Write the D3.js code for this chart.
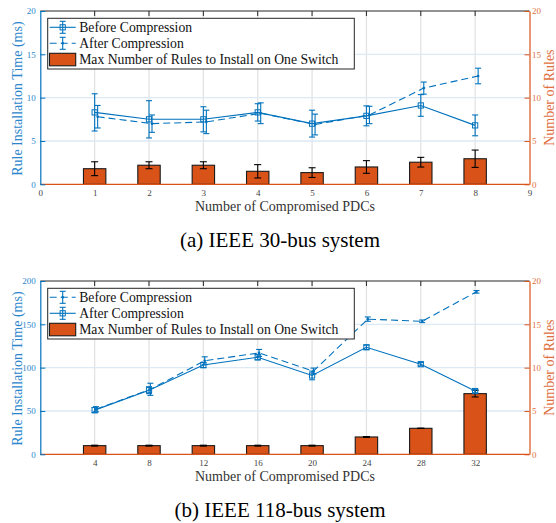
<!DOCTYPE html>
<html><head><meta charset="utf-8">
<script src="https://cdn.jsdelivr.net/npm/d3@7"></script>
<style>
body{margin:0;background:#fff}
svg{display:block}
svg text{font-family:"Liberation Serif","DejaVu Serif","Noto Serif","Tinos","Times New Roman","Nimbus Roman","Nimbus Roman No9 L","FreeSerif","Georgia",serif !important}
</style>
</head><body>
<svg id="chart" width="556" height="523"></svg>
<script>
// ---------- Panel (a): IEEE 30-bus ----------
const pdcA = [1, 2, 3, 4, 5, 6, 7, 8];
const beforeA = [8.3, 7.5, 7.5, 8.3, 7.0, 7.9, 9.1, 6.8];
const beforeAErr = [2.15, 2.15, 1.45, 1.0, 1.55, 1.15, 1.25, 1.2];
const afterA = [7.8, 7.0, 7.2, 8.2, 6.9, 8.0, 11.1, 12.5];
const afterAErr = [1.3, 1.0, 1.35, 1.2, 1.2, 1.0, 0.7, 0.9];
const rulesA = [1.8, 2.2, 2.2, 1.5, 1.35, 2.0, 2.55, 2.95];
const rulesAErr = [0.8, 0.4, 0.4, 0.77, 0.56, 0.73, 0.56, 1.0];
const xTicksA = [0, 1, 2, 3, 4, 5, 6, 7, 8, 9];
const leftTicksA = [0, 5, 10, 15, 20];
const legendA = ["Before Compression", "After Compression", "Max Number of Rules to Install on One Switch"];

// ---------- Panel (b): IEEE 118-bus ----------
const pdcB = [4, 8, 12, 16, 20, 24, 28, 32];
const beforeB = [52, 75, 108, 117, 96, 156, 153.5, 187.5];
const beforeBErr = [3, 7, 4.5, 4, 3.5, 2.5, 1.5, 1.5];
const afterB = [51, 74, 103, 112, 91, 123.5, 104, 73];
const afterBErr = [3, 4, 3, 3, 5, 2.5, 2, 2];
const rulesB = [1, 1, 1, 1, 1, 2, 3, 7];
const rulesBErr = [0.05, 0.05, 0.05, 0.05, 0.05, 0.05, 0, 0.38];
const xTicksB = [4, 8, 12, 16, 20, 24, 28, 32];
const leftTicksB = [0, 50, 100, 150, 200];
const legendB = ["Before Compression", "After Compression", "Max Number of Rules to Install on One Switch"];

const rightTicks = [0, 5, 10, 15, 20];
const xLabel = "Number of Compromised PDCs";
const yLeftLabel = "Rule Installation Time (ms)";
const yRightLabel = "Number of Rules";
const captions = ["(a) IEEE 30-bus system", "(b) IEEE 118-bus system"];

const BLUE = "#0072BD", ORANGE = "#D95319";
const BLUE_T = "#2b86cc", ORANGE_T = "#e0703f";
const svg = d3.select("#chart");

function drawPanel(o) {
  const g = svg.append("g");
  const x = d3.scaleLinear().domain(o.xDomain).range([40.3, 529.5]);
  const yL = d3.scaleLinear().domain(o.leftDomain).range([o.bottom, o.top]);
  const yR = d3.scaleLinear().domain([0, 20]).range([o.bottom, o.top]);
  const unit = (x(1) - x(0));

  // grid
  g.selectAll(".vg").data(o.xTicks.filter(t => t > o.xDomain[0] && t < o.xDomain[1]))
    .enter().append("line")
    .attr("x1", d => x(d)).attr("x2", d => x(d))
    .attr("y1", o.top).attr("y2", o.bottom)
    .attr("stroke", "#e3e3e3").attr("stroke-width", 1.3);
  g.selectAll(".hg").data(o.leftTicks.slice(1, -1))
    .enter().append("line")
    .attr("x1", x(o.xDomain[0])).attr("x2", x(o.xDomain[1]))
    .attr("y1", d => yL(d)).attr("y2", d => yL(d))
    .attr("stroke", "#dde9f4").attr("stroke-width", 1.3);

  // bars
  const bw = 22.4;
  g.selectAll(".bar").data(o.pdc).enter().append("rect")
    .attr("x", d => x(d) - bw / 2)
    .attr("width", bw)
    .attr("y", (d, i) => yR(o.rules[i]))
    .attr("height", (d, i) => yR(0) - yR(o.rules[i]))
    .attr("fill", ORANGE).attr("stroke", "#1a1a1a").attr("stroke-width", 1.1);
  const be = g.selectAll(".be").data(o.pdc).enter().append("g");
  be.append("line")
    .attr("x1", d => x(d)).attr("x2", d => x(d))
    .attr("y1", (d, i) => yR(o.rules[i] - o.rulesErr[i]))
    .attr("y2", (d, i) => yR(o.rules[i] + o.rulesErr[i]))
    .attr("stroke", "#000").attr("stroke-width", 1.1);
  [-1, 1].forEach(s => {
    be.append("line")
      .attr("x1", d => x(d) - 3.5).attr("x2", d => x(d) + 3.5)
      .attr("y1", (d, i) => yR(o.rules[i] + s * o.rulesErr[i]))
      .attr("y2", (d, i) => yR(o.rules[i] + s * o.rulesErr[i]))
      .attr("stroke", "#000").attr("stroke-width", 1.1);
  });

  // baseline
  g.append("line").attr("x1", x(o.xDomain[0])).attr("x2", x(o.xDomain[1]))
    .attr("y1", yR(0)).attr("y2", yR(0)).attr("stroke", ORANGE).attr("stroke-width", 1.3);

  // line series
  o.series.forEach(s => {
    const xs = d => x(d) + s.offset * unit;
    const line = d3.line().x((d, i) => xs(o.pdc[i])).y(d => yL(d));
    g.append("path").datum(s.values).attr("d", line)
      .attr("fill", "none").attr("stroke", BLUE).attr("stroke-width", 1.1)
      .attr("stroke-dasharray", s.dashed ? "7,4" : null);
    const eg = g.selectAll(null).data(o.pdc).enter().append("g");
    eg.append("line")
      .attr("x1", d => xs(d)).attr("x2", d => xs(d))
      .attr("y1", (d, i) => yL(s.values[i] - s.err[i]))
      .attr("y2", (d, i) => yL(s.values[i] + s.err[i]))
      .attr("stroke", BLUE).attr("stroke-width", 1.1);
    [-1, 1].forEach(k => {
      eg.append("line")
        .attr("x1", d => xs(d) - 3).attr("x2", d => xs(d) + 3)
        .attr("y1", (d, i) => yL(s.values[i] + k * s.err[i]))
        .attr("y2", (d, i) => yL(s.values[i] + k * s.err[i]))
        .attr("stroke", BLUE).attr("stroke-width", 1.1);
    });
    if (s.marker === "square") {
      eg.append("rect")
        .attr("x", d => xs(d) - 2.6).attr("y", (d, i) => yL(s.values[i]) - 2.6)
        .attr("width", 5.2).attr("height", 5.2)
        .attr("fill", "none").attr("stroke", BLUE).attr("stroke-width", 1);
    } else {
      eg.append("circle")
        .attr("cx", d => xs(d)).attr("cy", (d, i) => yL(s.values[i])).attr("r", 1.3)
        .attr("fill", BLUE);
    }
  });

  // top border with ticks
  g.append("line").attr("x1", x(o.xDomain[0])).attr("x2", x(o.xDomain[1]))
    .attr("y1", o.top).attr("y2", o.top).attr("stroke", "#262626").attr("stroke-width", 1);
  g.selectAll(".tt").data(o.xTicks.filter(t => t > o.xDomain[0] && t < o.xDomain[1]))
    .enter().append("line")
    .attr("x1", d => x(d)).attr("x2", d => x(d))
    .attr("y1", o.top).attr("y2", o.top + 5).attr("stroke", "#262626").attr("stroke-width", 1);

  // x axis labels
  const xa = g.append("g").attr("transform", `translate(0,${o.bottom})`)
    .call(d3.axisBottom(x).tickValues(o.xTicks).tickSize(0).tickPadding(5.5).tickFormat(d3.format("d")));
  xa.select(".domain").remove();
  xa.selectAll("text").attr("font-size", 9).attr("fill", "#444");

  // left axis
  const la = g.append("g").attr("transform", `translate(${x(o.xDomain[0])},0)`)
    .call(d3.axisLeft(yL).tickValues(o.leftTicks).tickSize(-5).tickSizeOuter(0).tickPadding(4.5));
  la.select(".domain").attr("stroke", BLUE).attr("stroke-width", 1.2);
  la.selectAll(".tick line").attr("stroke", BLUE);
  la.selectAll("text").attr("font-size", 9).attr("fill", BLUE_T);

  // right axis
  const ra = g.append("g").attr("transform", `translate(${x(o.xDomain[1])},0)`)
    .call(d3.axisRight(yR).tickValues(rightTicks).tickSize(-5).tickSizeOuter(0).tickPadding(2.5));
  ra.select(".domain").attr("stroke", ORANGE).attr("stroke-width", 1.2);
  ra.selectAll(".tick line").attr("stroke", ORANGE);
  ra.selectAll("text").attr("font-size", 9).attr("fill", ORANGE_T);

  // axis titles
  g.append("text").attr("x", 285).attr("y", o.bottom + 26.5).attr("text-anchor", "middle")
    .attr("font-size", 14).attr("fill", "#333").text(xLabel);
  g.append("text").attr("transform", `translate(21.5,${(o.top + o.bottom) / 2 + 1}) rotate(-90)`)
    .attr("text-anchor", "middle").attr("font-size", 14).attr("fill", BLUE_T).text(yLeftLabel);
  g.append("text").attr("transform", `translate(553.5,${(o.top + o.bottom) / 2}) rotate(-90)`)
    .attr("text-anchor", "middle").attr("font-size", 14).attr("fill", ORANGE_T).text(yRightLabel);

  // caption
  g.append("text").attr("x", 280).attr("y", o.captionY).attr("text-anchor", "middle")
    .attr("font-size", 21).attr("fill", "#000").text(o.caption);

  // legend
  const lg = g.append("g").attr("transform", `translate(47.7,${o.top + 7.3})`);
  lg.append("rect").attr("x", 0).attr("y", 0).attr("width", 306.6).attr("height", 50.7)
    .attr("fill", "#fff").attr("stroke", "#262626").attr("stroke-width", 1);
  const rows = [9, 25, 41.5];
  o.series.forEach(s => {
    const cy = rows[s.legendRow];
    lg.append("line").attr("x1", 2).attr("x2", 28).attr("y1", cy).attr("y2", cy)
      .attr("stroke", BLUE).attr("stroke-width", 1.1).attr("stroke-dasharray", s.dashed ? "7,4" : null);
    lg.append("line").attr("x1", 15).attr("x2", 15).attr("y1", cy - 6).attr("y2", cy + 6)
      .attr("stroke", BLUE).attr("stroke-width", 1.1);
    [-6, 6].forEach(k => lg.append("line").attr("x1", 12).attr("x2", 18).attr("y1", cy + k).attr("y2", cy + k)
      .attr("stroke", BLUE).attr("stroke-width", 1.1));
    if (s.marker === "square") {
      lg.append("rect").attr("x", 12.4).attr("y", cy - 2.6).attr("width", 5.2).attr("height", 5.2)
        .attr("fill", "none").attr("stroke", BLUE);
    } else {
      lg.append("circle").attr("cx", 15).attr("cy", cy).attr("r", 1.3).attr("fill", BLUE);
    }
    lg.append("text").attr("x", 31.5).attr("y", cy + 4.6).attr("font-size", 13.7).attr("fill", "#111")
      .text(o.legend[s.legendIndex]);
  });
  lg.append("rect").attr("x", 1.8).attr("y", rows[2] - 6.5).attr("width", 26.2).attr("height", 12.5)
    .attr("fill", ORANGE).attr("stroke", "#1a1a1a").attr("stroke-width", 1.1);
  lg.append("text").attr("x", 31.5).attr("y", rows[2] + 4.6).attr("font-size", 13.7).attr("fill", "#111")
    .text(o.legend[2]);
}

drawPanel({
  top: 11, bottom: 184.3, xDomain: [0, 9], xTicks: xTicksA,
  leftDomain: [0, 20], leftTicks: leftTicksA,
  pdc: pdcA, rules: rulesA, rulesErr: rulesAErr, legend: legendA,
  caption: captions[0], captionY: 247,
  series: [
    { values: beforeA, err: beforeAErr, dashed: false, marker: "square", offset: 0, legendRow: 0, legendIndex: 0 },
    { values: afterA, err: afterAErr, dashed: true, marker: "dot", offset: 0.055, legendRow: 1, legendIndex: 1 }
  ]
});

drawPanel({
  top: 281, bottom: 454.3, xDomain: [0, 36], xTicks: xTicksB,
  leftDomain: [0, 200], leftTicks: leftTicksB,
  pdc: pdcB, rules: rulesB, rulesErr: rulesBErr, legend: legendB,
  caption: captions[1], captionY: 517,
  series: [
    { values: beforeB, err: beforeBErr, dashed: true, marker: "dot", offset: 0.1, legendRow: 0, legendIndex: 0 },
    { values: afterB, err: afterBErr, dashed: false, marker: "square", offset: 0, legendRow: 1, legendIndex: 1 }
  ]
});
</script>
</body></html>
